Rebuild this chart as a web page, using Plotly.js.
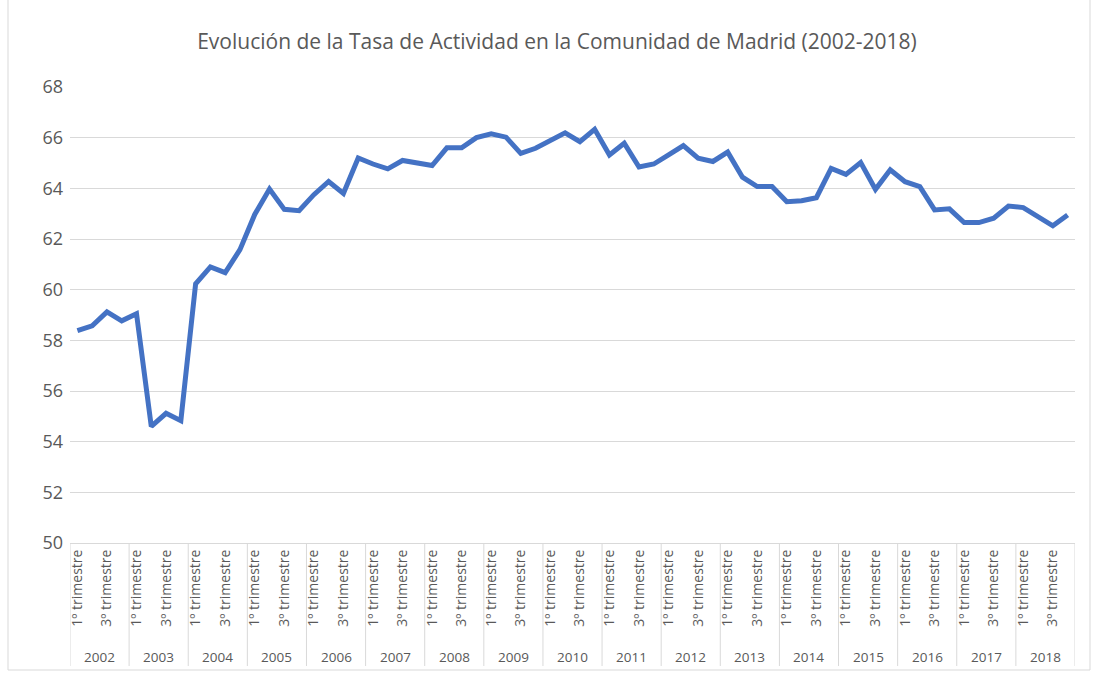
<!DOCTYPE html>
<html>
<head>
<meta charset="utf-8">
<script src="https://cdn.plot.ly/plotly-3.0.1.min.js"></script>
<style>
  html, body { margin: 0; padding: 0; background: #ffffff; }
  #chart { width: 1097px; height: 675px; }
</style>
</head>
<body>
<div id="chart"></div>
<script>
// ---- Data ----
const years = ['2002','2003','2004','2005','2006','2007','2008','2009','2010',
               '2011','2012','2013','2014','2015','2016','2017','2018'];
const quarterLabels = ['1º trimestre','2º trimestre','3º trimestre','4º trimestre'];
const tasaActividad = [
  58.38, 58.57, 59.12, 58.77,   // 2002
  59.05, 54.60, 55.12, 54.83,   // 2003
  60.23, 60.90, 60.67, 61.58,   // 2004
  62.97, 63.97, 63.17, 63.12,   // 2005
  63.75, 64.27, 63.80, 65.20,   // 2006
  64.96, 64.77, 65.10, 65.01,   // 2007
  64.90, 65.60, 65.60, 66.00,   // 2008
  66.15, 66.02, 65.38, 65.58,   // 2009
  65.87, 66.19, 65.84, 66.33,   // 2010
  65.32, 65.78, 64.84, 64.96,   // 2011
  65.32, 65.69, 65.19, 65.06,   // 2012
  65.43, 64.44, 64.07, 64.07,   // 2013
  63.47, 63.51, 63.63, 64.79,   // 2014
  64.55, 65.02, 63.96, 64.73,   // 2015
  64.26, 64.07, 63.15, 63.19,   // 2016
  62.65, 62.65, 62.82, 63.30,   // 2017
  63.24, 62.86, 62.52, 62.95    // 2018
];
const chartTitle = 'Evolución de la Tasa de Actividad en la Comunidad de Madrid (2002-2018)';

// ---- Derived ----
const nQ = quarterLabels.length;
const xIdx = tasaActividad.map((_, i) => i);
const tickvals = xIdx.filter(i => i % 2 === 0);
const ticktext = tickvals.map(i => quarterLabels[i % nQ]);

const grey = '#595959';
const gridGrey = '#d9d9d9';
const font = 'Open Sans, Liberation Sans, sans-serif';

// Plot area geometry (px) for paper coordinates
const plotTop = 87, plotBottom = 543, plotLeft = 70, plotRight = 1075;
const plotH = plotBottom - plotTop, plotW = plotRight - plotLeft;
const py = px => (plotBottom - px) / plotH;
const pxx = px => (px - plotLeft) / plotW;

const shapes = [];
for (let k = 0; k <= years.length; k++) {
  shapes.push({
    type: 'line', xref: 'x', yref: 'paper',
    x0: k * nQ - 0.5, x1: k * nQ - 0.5,
    y0: 0, y1: py(666),
    line: { color: gridGrey, width: 1 }
  });
}
// chart-area border
shapes.push({
  type: 'rect', xref: 'paper', yref: 'paper',
  x0: pxx(8), x1: pxx(1090), y0: py(670), y1: py(-10),
  line: { color: gridGrey, width: 1 }, fillcolor: 'rgba(0,0,0,0)', layer: 'below'
});

const annotations = years.map((yr, k) => ({
  xref: 'x', yref: 'paper',
  x: k * nQ + (nQ - 1) / 2, y: py(657),
  text: yr, showarrow: false,
  xanchor: 'center', yanchor: 'middle',
  font: { family: font, size: 13.5, color: grey }
}));

const trace = {
  x: xIdx,
  y: tasaActividad,
  type: 'scatter',
  mode: 'lines',
  line: { color: '#4472C4', width: 5, shape: 'linear' },
  hoverinfo: 'y'
};

const layout = {
  width: 1097, height: 675,
  paper_bgcolor: '#ffffff', plot_bgcolor: '#ffffff',
  margin: { l: plotLeft, r: 1097 - plotRight, t: plotTop, b: 675 - plotBottom },
  showlegend: false,
  title: {
    text: chartTitle,
    font: { family: font, size: 21, color: grey },
    x: 557 / 1097, xanchor: 'center', xref: 'container',
    y: 1 - 42 / 675, yanchor: 'middle', yref: 'container'
  },
  xaxis: {
    range: [-0.5, tasaActividad.length - 0.5],
    tickmode: 'array', tickvals: tickvals, ticktext: ticktext,
    tickangle: -90,
    tickfont: { family: font, size: 14, color: grey },
    ticks: '', showgrid: false, zeroline: false,
    showline: true, linecolor: gridGrey, linewidth: 1,
    fixedrange: true
  },
  yaxis: {
    range: [50, 68], dtick: 2, tick0: 50,
    tickfont: { family: font, size: 18, color: grey },
    showgrid: true, gridcolor: gridGrey, gridwidth: 1,
    zeroline: false, showline: false, ticks: '',
    ticklabelstandoff: 6,
    fixedrange: true
  },
  shapes: shapes,
  annotations: annotations
};

Plotly.newPlot('chart', [trace], layout, { displayModeBar: false, staticPlot: true });
</script>
</body>
</html>
